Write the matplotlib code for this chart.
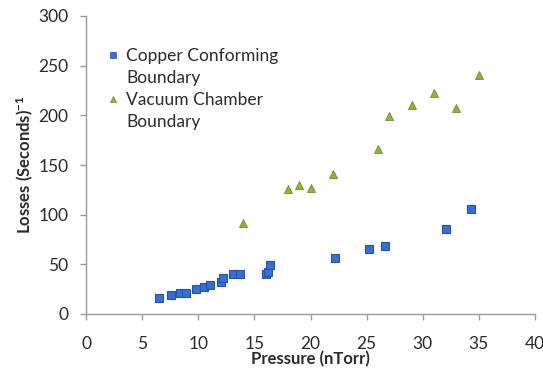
import matplotlib
matplotlib.use("Agg")
import matplotlib.pyplot as plt
from matplotlib.lines import Line2D

plt.rcParams['font.family'] = ['Lato', 'DejaVu Sans']
plt.rcParams['mathtext.default'] = 'regular'

# Data
copper_x = [6.5, 7.6, 8.4, 8.9, 9.8, 10.5, 11.05, 12.0, 12.2, 13.1, 13.7, 16.0, 16.2, 16.4, 22.2, 25.2, 26.6, 32.1, 34.3]
copper_y = [15.8, 18.8, 20.8, 21.5, 24.8, 27.5, 28.9, 31.9, 36.6, 40.0, 40.3, 40.5, 42.0, 49.5, 56.5, 65.7, 68.8, 85.7, 105.7]

vacuum_x = [14, 18, 19, 20, 22, 26, 27, 29, 31, 33, 35]
vacuum_y = [91.3, 125.5, 130.0, 126.5, 140.6, 165.8, 199.6, 210.4, 222.2, 207.0, 240.6]

x_ticks = [0, 5, 10, 15, 20, 25, 30, 35, 40]
y_ticks = [0, 50, 100, 150, 200, 250, 300]

series_labels = ["Copper Conforming", "Boundary", "Vacuum Chamber", "Boundary"]

blue = '#3a6fcf'
blue_edge = '#2553a8'
green = '#8db43a'
green_edge = '#6a8e27'
text_color = '#2b2b2b'
spine_color = '#9a9a9a'

fig = plt.figure(figsize=(5.43, 3.68), dpi=100)
ax = fig.add_axes([86/543, 1-314/368, (535-86)/543, (314-16)/368])

ax.plot(copper_x, copper_y, linestyle='none', marker='s', markersize=6.3,
        markerfacecolor=blue, markeredgecolor=blue_edge, markeredgewidth=0.8)
ax.plot(vacuum_x, vacuum_y, linestyle='none', marker='^', markersize=5.6,
        markerfacecolor=green, markeredgecolor=green_edge, markeredgewidth=0.6)

ax.set_xlim(0, 40)
ax.set_ylim(0, 300)
ax.set_xticks(x_ticks)
ax.set_yticks(y_ticks)

for s in ['top', 'right']:
    ax.spines[s].set_visible(False)
for s in ['left', 'bottom']:
    ax.spines[s].set_color(spine_color)
    ax.spines[s].set_linewidth(1.0)

ax.tick_params(axis='both', direction='out', color=spine_color, width=1.0,
               length=4.5, labelsize=12.5, labelcolor=text_color)
ax.tick_params(axis='x', pad=11)
ax.tick_params(axis='y', pad=8)

ax.set_xlabel('Pressure (nTorr)', fontsize=12, fontweight='bold', color=text_color, labelpad=-0.5)
ax.set_ylabel('Losses (Seconds)$^{-1}$', fontsize=12, fontweight='bold', color=text_color, labelpad=2)

handles = [
    Line2D([], [], linestyle='none', marker='s', markersize=4.5, markerfacecolor=blue, markeredgecolor=blue_edge, markeredgewidth=0.5),
    Line2D([], [], linestyle='none', marker=None),
    Line2D([], [], linestyle='none', marker='^', markersize=5, markerfacecolor=green, markeredgecolor=green_edge, markeredgewidth=0.5),
    Line2D([], [], linestyle='none', marker=None),
]
leg = ax.legend(handles, series_labels, loc='upper left', bbox_to_anchor=(0.0445, 0.891),
                frameon=False, borderpad=0, borderaxespad=0, handlelength=0.8,
                handletextpad=0.35, labelspacing=0.34, fontsize=12.5)
for t in leg.get_texts():
    t.set_color(text_color)

fig.savefig('out.png', dpi=100)
